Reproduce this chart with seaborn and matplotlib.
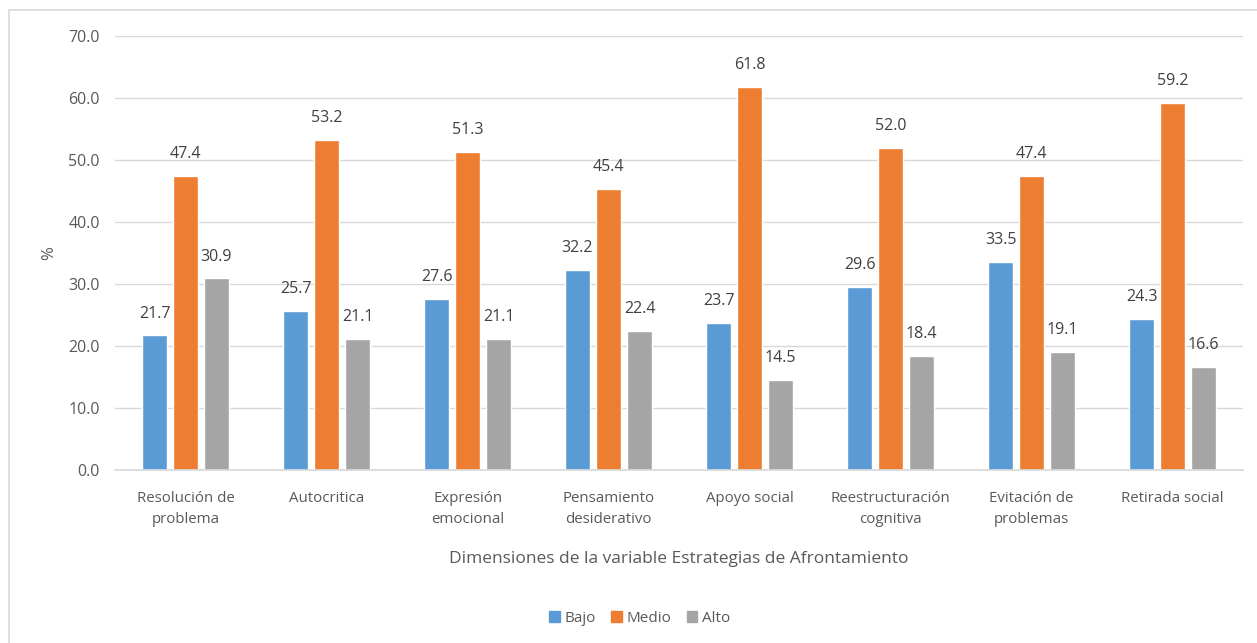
import matplotlib
matplotlib.use("Agg")
import matplotlib.pyplot as plt
import seaborn as sns
import pandas as pd
from matplotlib.patches import Rectangle

categorias = ["Resolución de\nproblema", "Autocritica", "Expresión\nemocional",
              "Pensamiento\ndesiderativo", "Apoyo social", "Reestructuración\ncognitiva",
              "Evitación de\nproblemas", "Retirada social"]
niveles = ["Bajo", "Medio", "Alto"]
bajo = [21.7, 25.7, 27.6, 32.2, 23.7, 29.6, 33.5, 24.3]
medio = [47.4, 53.2, 51.3, 45.4, 61.8, 52.0, 47.4, 59.2]
alto = [30.9, 21.1, 21.1, 22.4, 14.5, 18.4, 19.1, 16.6]
colores = ["#5B9BD5", "#ED7D31", "#A5A5A5"]

df = pd.DataFrame({
    "Dimension": categorias * 3,
    "Nivel": [n for n in niveles for _ in categorias],
    "Valor": bajo + medio + alto,
})

sns.set_theme(style="white")
plt.rcParams["font.family"] = ["Open Sans", "DejaVu Sans"]
txt = "#595959"

fig = plt.figure(figsize=(12.57, 6.43), dpi=100)
ax = fig.add_axes([0.0915, 0.269, 0.8975, 0.675])

sns.barplot(data=df, x="Dimension", y="Valor", hue="Nivel", hue_order=niveles,
            palette=colores, width=0.66, gap=0.2, ax=ax, errorbar=None,
            saturation=1, legend=True)

for cont in ax.containers:
    ax.bar_label(cont, fmt="%.1f", padding=10, fontsize=11.5, color="#404040")

ax.set_ylim(0, 70)
ax.set_yticks(range(0, 71, 10))
ax.set_yticklabels([f"{v:.1f}" for v in range(0, 71, 10)], fontsize=11.5, color=txt)
ax.tick_params(axis="x", labelsize=10.8, colors=txt, pad=15, length=0)
ax.tick_params(axis="y", pad=11, length=0)
for lbl in ax.get_xticklabels():
    lbl.set_linespacing(1.6)
ax.yaxis.grid(True, color="#D9D9D9", linewidth=1)
ax.set_axisbelow(True)
for s in ["top", "right", "left"]:
    ax.spines[s].set_visible(False)
ax.spines["bottom"].set_color("#D9D9D9")
ax.set_xlim(-0.5, 7.5)

ax.set_xlabel("Dimensiones de la variable Estrategias de Afrontamiento",
              fontsize=12.5, color=txt, labelpad=17)
ax.set_ylabel("%", fontsize=12, color=txt, labelpad=8)

ax.legend_.remove()
handles = [Rectangle((0, 0), 1, 1, color=c) for c in colores]
fig.legend(handles, niveles, loc="center", bbox_to_anchor=(0.509, 0.038), ncol=3,
           frameon=False, fontsize=11, handlelength=0.7, handleheight=0.7,
           handletextpad=0.3, columnspacing=1.0, labelcolor=txt)

fig.patches.append(Rectangle((9 / 1257, -0.01), 1.1, 1 - 10 / 643 + 0.01,
                             transform=fig.transFigure, fill=False,
                             edgecolor="#D9D9D9", linewidth=1.2))

fig.savefig("out.png", dpi=100)
